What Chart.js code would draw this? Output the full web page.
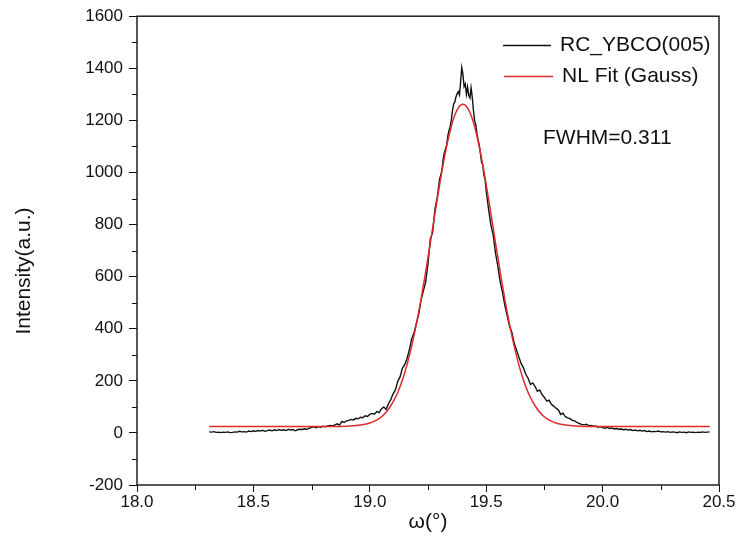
<!DOCTYPE html>
<html>
<head>
<meta charset="utf-8">
<script src="https://cdn.jsdelivr.net/npm/chart.js@4.4.1/dist/chart.umd.min.js"></script>
<style>
  html, body { margin: 0; padding: 0; background: #fff; }
  #wrap { width: 740px; height: 541px; }
</style>
</head>
<body>
<div id="wrap"><canvas id="chart" width="740" height="541"></canvas></div>
<script>
// rocking curve of YBCO (005), omega in degrees
const omega = [
  18.31, 18.32, 18.33, 18.34, 18.35, 18.36, 18.37, 18.38, 18.39, 18.40,
  18.41, 18.42, 18.43, 18.44, 18.45, 18.46, 18.47, 18.48, 18.49, 18.50,
  18.51, 18.52, 18.53, 18.54, 18.55, 18.56, 18.57, 18.58, 18.59, 18.60,
  18.61, 18.62, 18.63, 18.64, 18.65, 18.66, 18.67, 18.68, 18.69, 18.70,
  18.71, 18.72, 18.73, 18.74, 18.75, 18.76, 18.77, 18.78, 18.79, 18.80,
  18.81, 18.82, 18.83, 18.84, 18.85, 18.86, 18.87, 18.88, 18.89, 18.90,
  18.91, 18.92, 18.93, 18.94, 18.95, 18.96, 18.97, 18.98, 18.99, 19.00,
  19.01, 19.02, 19.03, 19.04, 19.05, 19.06, 19.07, 19.08, 19.09, 19.10,
  19.11, 19.12, 19.13, 19.14, 19.15, 19.16, 19.17, 19.18, 19.19, 19.20,
  19.21, 19.22, 19.23, 19.24, 19.25, 19.26, 19.27, 19.28, 19.29, 19.30,
  19.305, 19.31, 19.315, 19.32, 19.325, 19.33, 19.335, 19.34, 19.345, 19.35,
  19.355, 19.36, 19.365, 19.37, 19.375, 19.38, 19.385, 19.39, 19.395, 19.40,
  19.405, 19.41, 19.415, 19.42, 19.425, 19.43, 19.435, 19.44, 19.445, 19.45,
  19.455, 19.46, 19.465, 19.47, 19.475, 19.48, 19.485, 19.49, 19.495, 19.50,
  19.51, 19.52, 19.53, 19.54, 19.55, 19.56, 19.57, 19.58, 19.59, 19.60,
  19.61, 19.62, 19.63, 19.64, 19.65, 19.66, 19.67, 19.68, 19.69, 19.70,
  19.71, 19.72, 19.73, 19.74, 19.75, 19.76, 19.77, 19.78, 19.79, 19.80,
  19.81, 19.82, 19.83, 19.84, 19.85, 19.86, 19.87, 19.88, 19.89, 19.90,
  19.91, 19.92, 19.93, 19.94, 19.95, 19.96, 19.97, 19.98, 19.99, 20.00,
  20.01, 20.02, 20.03, 20.04, 20.05, 20.06, 20.07, 20.08, 20.09, 20.10,
  20.11, 20.12, 20.13, 20.14, 20.15, 20.16, 20.17, 20.18, 20.19, 20.20,
  20.21, 20.22, 20.23, 20.24, 20.25, 20.26, 20.27, 20.28, 20.29, 20.30,
  20.31, 20.32, 20.33, 20.34, 20.35, 20.36, 20.37, 20.38, 20.39, 20.40,
  20.41, 20.42, 20.43, 20.44, 20.45, 20.46
];
const intensity = [
  4, 3, 5, 2, 3, 1, 3, 2, 4, 1,
  2, 4, 3, 6, 4, 5, 3, 7, 5, 8,
  6, 9, 7, 10, 6, 9, 11, 8, 12, 9,
  13, 10, 12, 9, 14, 11, 13, 8, 12, 14,
  13, 16, 14, 18, 21, 23, 20, 24, 22, 26,
  24, 27, 29, 27, 31, 35, 30, 44, 40, 46,
  48, 52, 50, 56, 54, 60, 58, 66, 63, 71,
  75, 72, 82, 78, 92, 100, 90, 112, 128, 150,
  165, 198, 215, 248, 262, 286, 320, 362, 385, 420,
  455, 510, 545, 580, 650, 745, 770, 860, 905, 975,
  990, 1010, 1050, 1075, 1090, 1105, 1140, 1160, 1175, 1200,
  1236, 1262, 1270, 1290, 1302, 1310, 1298, 1345, 1403, 1378,
  1330, 1340, 1300, 1328, 1295, 1286, 1325, 1290, 1240, 1200,
  1185, 1150, 1125, 1105, 1075, 1040, 1030, 990, 975, 930,
  860, 800, 760, 690, 640, 580, 540, 490, 450, 410,
  388, 345, 318, 292, 267, 250, 225, 210, 186, 192,
  178, 160, 165, 147, 136, 122, 126, 110, 103, 95,
  88, 71, 76, 62, 58, 55, 48, 46, 40, 36,
  33, 31, 33, 28, 29, 26, 27, 22, 24, 20,
  18, 21, 17, 19, 15, 17, 14, 15, 12, 14,
  11, 13, 9, 11, 8, 10, 7, 9, 5, 7,
  4, 6, 5, 7, 4, 5, 3, 5, 2, 4,
  3, 1, 4, 2, 3, 1, 4, 2, 3, 1,
  3, 2, 4, 2, 3, 4
];

// Gauss fit
const fitOmega = [
  18.31, 18.60, 18.80, 18.85,
  18.90, 18.92, 18.94, 18.96, 18.98, 19.00, 19.02, 19.04, 19.06, 19.08,
  19.10, 19.12, 19.14, 19.16, 19.18, 19.20, 19.22, 19.24, 19.26, 19.28,
  19.30, 19.32, 19.34, 19.36, 19.38, 19.40,
  19.42, 19.44, 19.46, 19.48, 19.50, 19.52, 19.54, 19.56, 19.58, 19.60,
  19.62, 19.64, 19.66, 19.68, 19.70, 19.72, 19.74, 19.76, 19.78, 19.80,
  19.82, 19.84, 19.86, 19.88, 19.90, 19.95, 20.00, 20.46
];
const fitIntensity = [
  25, 25, 25, 25,
  26, 27, 28, 30, 33, 38, 45, 55, 70, 91,
  119, 155, 203, 262, 334, 418, 513, 618, 730, 843,
  953, 1055, 1141, 1207, 1248, 1262,
  1248, 1207, 1141, 1055, 953, 843, 730, 618, 513, 418,
  334, 262, 203, 155, 119, 91, 70, 55, 45, 38,
  33, 30, 28, 27, 26, 25, 25, 25
];

const seriesNames = ['RC_YBCO(005)', 'NL Fit (Gauss)'];
const fwhmLabel = 'FWHM=0.311';
const yTitle = 'Intensity(a.u.)';

const FONT = '"Liberation Sans", Arial, sans-serif';
const INK = '#111';

function pts(xs, ys) {
  return xs.map((x, i) => ({ x: x, y: ys[i] }));
}

// box around the plot, short minor ticks, y title, legend and FWHM note
const extras = {
  id: 'extras',
  afterDraw(chart) {
    const c = chart.ctx;
    const a = chart.chartArea;
    c.save();
    c.strokeStyle = INK;
    c.lineWidth = 1.4;
    c.strokeRect(a.left, a.top, a.right - a.left, a.bottom - a.top);

    c.lineWidth = 1;
    c.beginPath();
    chart.scales.x.ticks.forEach(t => {
      if (Math.round(t.value * 100) % 50 !== 0) {
        const px = Math.round(chart.scales.x.getPixelForValue(t.value)) + 0.5;
        c.moveTo(px, a.bottom);
        c.lineTo(px, a.bottom + 5);
      }
    });
    chart.scales.y.ticks.forEach(t => {
      if (t.value % 200 !== 0) {
        const py = Math.round(chart.scales.y.getPixelForValue(t.value)) + 0.5;
        c.moveTo(a.left, py);
        c.lineTo(a.left - 5, py);
      }
    });
    c.stroke();

    c.fillStyle = INK;
    c.textBaseline = 'middle';

    c.save();
    c.translate(24, 271);
    c.rotate(-Math.PI / 2);
    c.textAlign = 'center';
    c.font = '21px ' + FONT;
    c.fillText(yTitle, 0, 0);
    c.restore();

    c.font = '21px ' + FONT;
    const rows = [{ y: 45.5, x0: 503, x1: 551, tx: 560 }, { y: 76.5, x0: 504, x1: 553, tx: 562 }];
    chart.data.datasets.forEach((ds, i) => {
      const r = rows[i];
      c.strokeStyle = ds.borderColor;
      c.lineWidth = ds.borderWidth;
      c.beginPath();
      c.moveTo(r.x0, r.y);
      c.lineTo(r.x1, r.y);
      c.stroke();
      c.fillText(ds.label, r.tx, r.y);
    });
    c.fillText(fwhmLabel, 543, 138);
    c.restore();
  }
};

new Chart(document.getElementById('chart'), {
  type: 'line',
  data: {
    datasets: [
      {
        label: seriesNames[0],
        data: pts(omega, intensity),
        borderColor: '#111111',
        borderWidth: 1.4,
        pointRadius: 0,
        tension: 0,
        order: 1
      },
      {
        label: seriesNames[1],
        data: pts(fitOmega, fitIntensity),
        borderColor: '#dd2a2a',
        borderWidth: 1.5,
        pointRadius: 0,
        cubicInterpolationMode: 'monotone',
        order: 0
      }
    ]
  },
  options: {
    responsive: false,
    animation: false,
    layout: { padding: { top: 11, right: 21, bottom: 0, left: 0 } },
    plugins: { legend: { display: false }, tooltip: { enabled: false } },
    scales: {
      x: {
        type: 'linear',
        min: 18,
        max: 20.5,
        afterFit(s) { s.height = 56; },
        ticks: {
          stepSize: 0.25,
          autoSkip: false,
          maxRotation: 0,
          padding: 0,
          color: INK,
          font: { family: FONT, size: 17 },
          callback: v => (Math.round(v * 100) % 50 === 0 ? v.toFixed(1) : '')
        },
        grid: {
          drawOnChartArea: false,
          tickLength: 7,
          tickWidth: 1,
          tickColor: ctx => (Math.round(ctx.tick.value * 100) % 50 === 0 ? INK : 'rgba(0,0,0,0)')
        },
        border: { display: false },
        title: {
          display: true,
          text: 'ω(°)',
          color: INK,
          font: { family: FONT, size: 21 },
          padding: { top: 0, bottom: 6 }
        }
      },
      y: {
        min: -200,
        max: 1600,
        afterFit(s) { s.width = 137; },
        ticks: {
          stepSize: 100,
          autoSkip: false,
          padding: 6,
          color: INK,
          font: { family: FONT, size: 17 },
          callback: v => (v % 200 === 0 ? String(v) : '')
        },
        grid: {
          drawOnChartArea: false,
          tickLength: 8,
          tickWidth: 1,
          tickColor: ctx => (ctx.tick.value % 200 === 0 ? INK : 'rgba(0,0,0,0)')
        },
        border: { display: false },
        title: { display: false }
      }
    }
  },
  plugins: [extras]
});
</script>
</body>
</html>
